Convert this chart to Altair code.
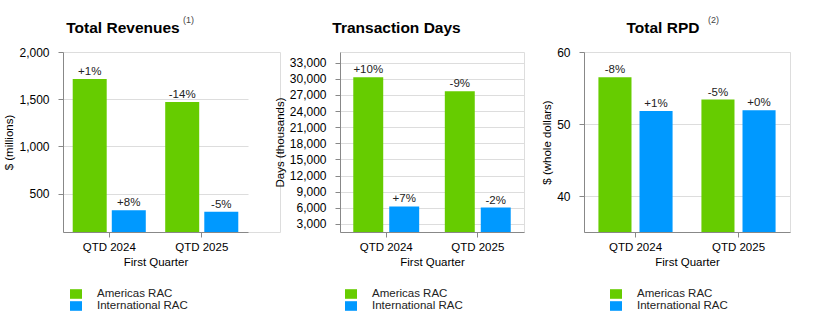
import altair as alt
import pandas as pd

FONT = "Liberation Sans"

quarters = ["QTD 2024", "QTD 2025"]
segments = ["Americas RAC", "International RAC"]
seg_colors = ["#66CC00", "#0099FF"]

rev_americas = [1715, 1471]
rev_international = [326, 308]
rev_chg_americas = ["+1%", "-14%"]
rev_chg_international = ["+8%", "-5%"]
rev_ticks = [500, 1000, 1500, 2000]

days_americas = [30300, 27700]
days_international = [6250, 6050]
days_chg_americas = ["+10%", "-9%"]
days_chg_international = ["+7%", "-2%"]
days_ticks = [3000, 6000, 9000, 12000, 15000, 18000, 21000, 24000, 27000, 30000, 33000]

rpd_americas = [56.5, 53.4]
rpd_international = [51.8, 51.9]
rpd_chg_americas = ["-8%", "-5%"]
rpd_chg_international = ["+1%", "+0%"]
rpd_ticks = [40, 50, 60]


def frame(am, intl, chg_am, chg_intl):
    rows = []
    for i, q in enumerate(quarters):
        rows.append({"quarter": q, "segment": segments[0], "value": am[i], "chg": chg_am[i]})
        rows.append({"quarter": q, "segment": segments[1], "value": intl[i], "chg": chg_intl[i]})
    return pd.DataFrame(rows)


def panel(df, title, title_x, sup, sup_x, ytitle, domain, ticks, width, plot_w,
          pin, pout, off_pad, legend_x):
    x = alt.X("quarter:N", sort=quarters,
              scale=alt.Scale(paddingInner=pin, paddingOuter=pout, range=[0, plot_w]),
              axis=alt.Axis(title="First Quarter", labelAngle=0, grid=False,
                            labelFontSize=11.5, titleFontSize=11.5,
                            titleFontWeight="normal",
                            labelPadding=4, titlePadding=4, titleX=plot_w / 2))
    xo = alt.XOffset("segment:N", sort=segments,
                     scale=alt.Scale(paddingInner=off_pad, paddingOuter=0))
    y = alt.Y("value:Q", scale=alt.Scale(domain=domain, zero=False, nice=False),
              axis=alt.Axis(title=ytitle, values=ticks, format=",d", tickCount=len(ticks),
                            labelFontSize=12, titleFontSize=11.5,
                            titleFontWeight="normal", labelOverlap=False,
                            labelPadding=9, titlePadding=4))
    color = alt.Color("segment:N", sort=segments,
                      scale=alt.Scale(domain=segments, range=seg_colors),
                      legend=alt.Legend(title=None, orient="none",
                                        legendX=legend_x, legendY=236,
                                        symbolType="M-1,-0.8L1,-0.8L1,0.8L-1,0.8Z",
                                        symbolSize=144, symbolStrokeWidth=0,
                                        labelFontSize=11.5, labelFont=FONT,
                                        labelColor="#222", labelOffset=15,
                                        rowPadding=0))
    bars = alt.Chart(df).mark_bar(clip=True).encode(x=x, xOffset=xo, y=y, color=color)
    labels = alt.Chart(df).mark_text(baseline="bottom", dy=-2, fontSize=11.5,
                                     font=FONT, color="#222").encode(
        x=x, xOffset=xo, y=y, text="chg:N")
    title_layer = alt.Chart(pd.DataFrame({"t": [title]})).mark_text(
        fontSize=15.5, font=FONT, fontWeight="bold", color="#000",
        align="center", baseline="middle").encode(
        x=alt.value(title_x), y=alt.value(-24), text="t:N")
    layers = [bars, labels, title_layer]
    if sup:
        sup_layer = alt.Chart(pd.DataFrame({"t": [sup]})).mark_text(
            fontSize=9, font=FONT, color="#444", align="left", baseline="middle").encode(
            x=alt.value(sup_x), y=alt.value(-32), text="t:N")
        layers.append(sup_layer)
    return alt.layer(*layers).properties(width=width, height=180)


p1 = panel(frame(rev_americas, rev_international, rev_chg_americas, rev_chg_international),
           "Total Revenues", 60, "(1)", 120, "$ (millions)", [95, 2000], rev_ticks,
           217, 185, 0.21, 0.105, 0.13, 7)
p2 = panel(frame(days_americas, days_international, days_chg_americas, days_chg_international),
           "Transaction Days", 56.5, "", 0, "Days (thousands)", [1500, 35000], days_ticks,
           184, 184, 0.28, 0.145, 0.167, 5)
p3 = panel(frame(rpd_americas, rpd_international, rpd_chg_americas, rpd_chg_international),
           "Total RPD", 79, "(2)", 124, "$ (whole dollars)", [35, 60], rpd_ticks,
           206, 206, 0.28, 0.14, 0.195, 26)

chart = alt.hconcat(p1, p2, p3, spacing=60, bounds="flush").resolve_scale(
    x="independent", y="independent", color="independent", xOffset="independent"
).resolve_legend(color="independent").properties(
    padding={"left": 3, "top": 15, "right": 5, "bottom": 5}
).configure_view(stroke=None).configure_axis(
    labelFont=FONT, titleFont=FONT, labelColor="#222", titleColor="#222",
    gridColor="#e6e6e6", domainColor="#aaaaaa",
    tickColor="#aaaaaa", tickSize=5, labelOverlap=False
).configure(background="white")

chart.save("out.html", embed_options={"renderer": "svg", "actions": False})
